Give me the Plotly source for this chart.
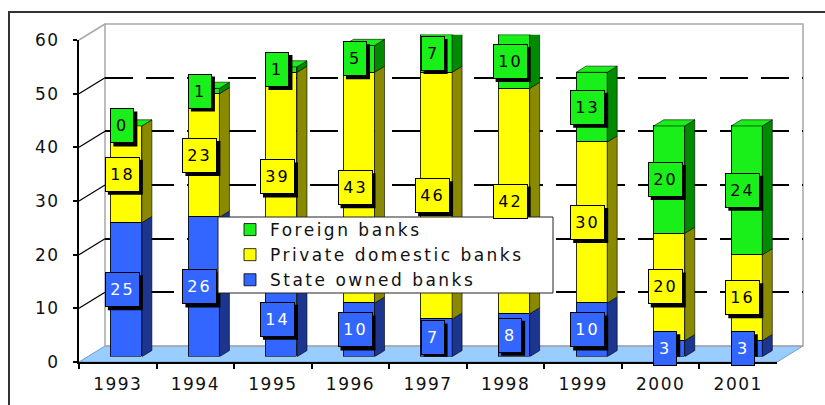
import plotly.graph_objects as go

# ---- data ----
years = ["1993", "1994", "1995", "1996", "1997", "1998", "1999", "2000", "2001"]
state_owned = [25, 26, 14, 10, 7, 8, 10, 3, 3]
private_domestic = [18, 23, 39, 43, 46, 42, 30, 20, 16]
foreign = [0, 1, 1, 5, 7, 10, 13, 20, 24]
y_ticks = [0, 10, 20, 30, 40, 50, 60]
Y_MAX = 60

# ---- look ----
W, H = 825, 405
FONT = "DejaVu Sans"
series = [
    # name, values, front colour, side colour, label text colour
    ("State owned banks", state_owned, "#3366ff", "#1c358f", "#ffffff"),
    ("Private domestic banks", private_domestic, "#ffff00", "#8a8a00", "#000000"),
    ("Foreign banks", foreign, "#19f019", "#008a00", "#000000"),
]


def spaced(text, px):
    """Wrap text in a span with extra letter spacing."""
    return f'<span style="letter-spacing:{px}px">{text}</span>'


# front plane of the 3-D box (pixels)
F_LEFT, F_RIGHT, F_BOTTOM, F_TOP = 79, 777, 362, 40
DEPTH_X, DEPTH_Y = 26, -16          # offset from front plane to back wall
BAR_FRONT = 0.33                    # bars start at this fraction of the depth
BAR_DEPTH_PX = 10                   # horizontal depth of each bar
BAR_W = 0.4

# legend box (pixels)
LEG_L, LEG_T, LEG_R, LEG_B = 218, 217, 553, 293

n = len(years)
x_idx = list(range(n))
px_per_x = (F_RIGHT - F_LEFT) / n
px_per_y = (F_BOTTOM - F_TOP) / Y_MAX


def fx(px):
    return px / W


def fy(py):
    return 1 - py / H


def plane(shift):
    dx, dy = DEPTH_X * shift, DEPTH_Y * shift
    return ([fx(F_LEFT + dx), fx(F_RIGHT + dx)],
            [fy(F_BOTTOM + dy), fy(F_TOP + dy)])


back_xd, back_yd = plane(1.0)
bar_xd, bar_yd = plane(BAR_FRONT)
front_xd, front_yd = plane(0.0)

fig = go.Figure()

# placeholders so every plane exists as a subplot
fig.add_trace(go.Scatter(x=[0], y=[0], mode="markers", marker=dict(opacity=0),
                         showlegend=False, hoverinfo="skip", xaxis="x", yaxis="y"))
fig.add_trace(go.Scatter(x=years, y=[0] * n, mode="markers", marker=dict(opacity=0),
                         showlegend=False, hoverinfo="skip", xaxis="x3", yaxis="y3"))

# stacked bars on the mid-depth plane
for name, vals, col, _, _ in series:
    fig.add_trace(go.Bar(x=x_idx, y=vals, name=spaced(name, 2.5), width=BAR_W,
                         marker=dict(color=col, line=dict(color="#000000", width=0.8)),
                         xaxis="x2", yaxis="y2", hoverinfo="skip"))

shapes = []


# ---- box: floor, walls, side-wall ticks ----
def y_front(v):
    return F_BOTTOM - v * px_per_y


def y_back(v):
    return F_BOTTOM + DEPTH_Y - v * px_per_y


floor = [(F_LEFT, F_BOTTOM), (F_RIGHT, F_BOTTOM),
         (F_RIGHT + DEPTH_X, F_BOTTOM + DEPTH_Y), (F_LEFT + DEPTH_X, F_BOTTOM + DEPTH_Y)]
shapes.append(dict(type="path", xref="paper", yref="paper", layer="below",
                   path="M " + " L ".join(f"{fx(a)},{fy(b)}" for a, b in floor) + " Z",
                   fillcolor="#99ccff", line=dict(color="#6f9fd0", width=1)))
# back wall outline
shapes.append(dict(type="rect", xref="paper", yref="paper", layer="below",
                   x0=fx(F_LEFT + DEPTH_X), x1=fx(F_RIGHT + DEPTH_X),
                   y0=fy(y_back(0)), y1=fy(y_back(Y_MAX)),
                   line=dict(color="#a8a8a8", width=1.5)))
# left wall top edge
shapes.append(dict(type="line", xref="paper", yref="paper", layer="below",
                   x0=fx(F_LEFT), y0=fy(y_front(Y_MAX)),
                   x1=fx(F_LEFT + DEPTH_X), y1=fy(y_back(Y_MAX)),
                   line=dict(color="#a8a8a8", width=1.5)))
# tick lines across the left wall
for v in y_ticks[1:-1]:
    shapes.append(dict(type="line", xref="paper", yref="paper", layer="below",
                       x0=fx(F_LEFT), y0=fy(y_front(v)),
                       x1=fx(F_LEFT + DEPTH_X), y1=fy(y_back(v)),
                       line=dict(color="#000000", width=1.2)))
# outer frame
shapes.append(dict(type="rect", xref="paper", yref="paper", layer="below",
                   x0=fx(9), x1=fx(840), y0=fy(12), y1=fy(420),
                   line=dict(color="#333333", width=2)))

# ---- bar sides and tops ----
dx = BAR_DEPTH_PX / px_per_x
dy = BAR_DEPTH_PX * (-DEPTH_Y / DEPTH_X) / px_per_y
base = [0] * n
for name, vals, col, side, _ in series:
    for i, v in enumerate(vals):
        b = base[i]
        if v > 0:
            xr = i + BAR_W / 2
            shapes.append(dict(
                type="path", xref="x2", yref="y2", layer="above",
                path=f"M {xr},{b} L {xr + dx},{b + dy} L {xr + dx},{b + v + dy} L {xr},{b + v} Z",
                fillcolor=side, line=dict(color="#000000", width=0.6)))
        base[i] = b + v
top_col = series[-1][2]
for i in range(n):
    t = base[i]
    xl, xr = i - BAR_W / 2, i + BAR_W / 2
    shapes.append(dict(
        type="path", xref="x2", yref="y2", layer="above",
        path=f"M {xl},{t} L {xr},{t} L {xr + dx},{t + dy} L {xl + dx},{t + dy} Z",
        fillcolor=top_col, line=dict(color="#000000", width=0.6)))

# ---- value labels: boxed, with a drop shadow drawn as a pixel-sized shape ----
LBL_SHIFT = -4      # label box sits slightly left of the bar centre
LBL_PAD = 5
LBL_H = 23
SHADOW = 3
annotations = []
base = [0] * n
for name, vals, col, _, txt in series:
    for i, v in enumerate(vals):
        mid = base[i] + v / 2
        label = str(v)
        inner_w = 12 if len(label) == 1 else 23
        outer_w = inner_w + 2 * (LBL_PAD + 1)
        outer_h = LBL_H + 2 * (LBL_PAD + 1)
        shapes.append(dict(
            type="rect", xref="x2", yref="y2", layer="above",
            xsizemode="pixel", ysizemode="pixel", xanchor=i, yanchor=mid,
            x0=LBL_SHIFT - outer_w / 2 + SHADOW, x1=LBL_SHIFT + outer_w / 2 + SHADOW,
            y0=-outer_h / 2 - SHADOW, y1=outer_h / 2 - SHADOW,
            fillcolor="#000000", line=dict(width=0)))
        annotations.append(dict(
            x=i, y=mid, xref="x2", yref="y2", text=spaced(label, 2), showarrow=False,
            xshift=LBL_SHIFT, width=inner_w, height=LBL_H, align="center", valign="middle",
            borderpad=LBL_PAD, borderwidth=1, bgcolor=col, bordercolor="#000000",
            font=dict(family=FONT, size=16, color=txt)))
        base[i] += v

# legend panel (drawn over the bars, under the legend entries)
shapes.append(dict(type="rect", xref="paper", yref="paper", layer="above",
                   x0=fx(LEG_L), x1=fx(LEG_R), y0=fy(LEG_B), y1=fy(LEG_T),
                   fillcolor="#ffffff", line=dict(color="#222222", width=1)))

fig.update_layout(
    width=W, height=H, autosize=False,
    margin=dict(l=0, r=0, t=0, b=0, autoexpand=False),
    paper_bgcolor="#ffffff", plot_bgcolor="rgba(0,0,0,0)",
    barmode="stack", bargap=0,
    font=dict(family=FONT, size=17, color="#111111"),
    shapes=shapes, annotations=annotations,
    showlegend=True,
    legend=dict(x=fx(LEG_L), y=fy(LEG_T - 5), xanchor="left", yanchor="top",
                bgcolor="rgba(0,0,0,0)", borderwidth=0,
                traceorder="reversed", font=dict(family=FONT, size=17, color="#111111"),
                indentation=12, tracegroupgap=0),
    # back wall with dashed grid
    xaxis=dict(domain=back_xd, range=[-0.5, n - 0.5], visible=False, fixedrange=True,
               automargin=False),
    yaxis=dict(domain=back_yd, range=[0, Y_MAX], tickvals=y_ticks[1:-1],
               showgrid=True, gridcolor="#000000", gridwidth=2, griddash="28px,13px",
               showticklabels=False, zeroline=False, showline=False, ticks="",
               fixedrange=True, anchor="x", automargin=False),
    # bar plane
    xaxis2=dict(domain=bar_xd, range=[-0.5, n - 0.5], visible=False, anchor="y2",
                automargin=False),
    yaxis2=dict(domain=bar_yd, range=[0, Y_MAX], visible=False, anchor="x2",
                automargin=False),
    # front axes
    xaxis3=dict(domain=front_xd, type="category", categoryorder="array",
                categoryarray=years, range=[-0.5, n - 0.5], anchor="y3",
                tickvals=years, ticktext=[spaced(y, 1.5) for y in years],
                showline=True, linecolor="#000000", linewidth=2,
                ticks="outside", tickson="boundaries", ticklen=5, tickwidth=1.5,
                tickcolor="#000000", showgrid=False, ticklabelstandoff=6,
                automargin=False,
                tickfont=dict(family=FONT, size=17, color="#111111")),
    yaxis3=dict(domain=front_yd, range=[0, Y_MAX], tickvals=y_ticks, anchor="x3",
                ticktext=[spaced(t, 1.5) for t in y_ticks],
                showline=True, linecolor="#000000", linewidth=2,
                ticks="outside", ticklen=4, tickwidth=1.5, tickcolor="#000000",
                showgrid=False, zeroline=False, ticklabelstandoff=10,
                automargin=False,
                tickfont=dict(family=FONT, size=17, color="#111111")),
)

fig.write_html("out.html")
